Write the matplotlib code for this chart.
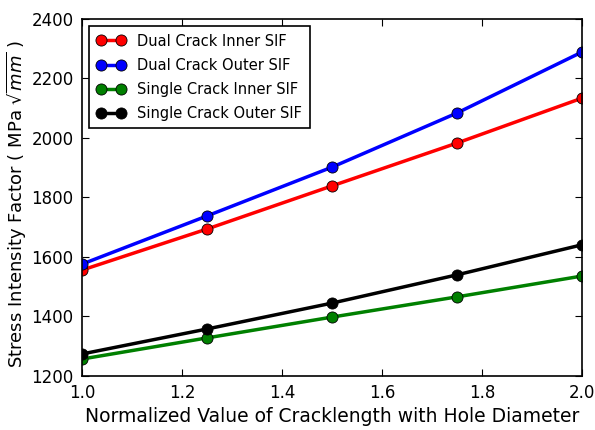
import numpy as np
import matplotlib
matplotlib.use("Agg")
import matplotlib.pyplot as plt

# normalized crack length (crack length / hole diameter)
crack_ratio = [1.0, 1.25, 1.5, 1.75, 2.0]

# SIF values (MPa sqrt(mm))
dual_inner = [1556, 1694, 1839, 1983, 2134]
dual_outer = [1576, 1738, 1902, 2084, 2289]
single_inner = [1257, 1328, 1398, 1466, 1536]
single_outer = [1274, 1358, 1445, 1540, 1641]

series_labels = [
    "Dual Crack Inner SIF",
    "Dual Crack Outer SIF",
    "Single Crack Inner SIF",
    "Single Crack Outer SIF",
]
series_colors = ["red", "blue", "green", "black"]

x_ticks = [1.0, 1.2, 1.4, 1.6, 1.8, 2.0]
y_ticks = [1200, 1400, 1600, 1800, 2000, 2200, 2400]

plt.rcParams["font.family"] = ["DejaVu Sans"]
plt.rcParams["mathtext.fontset"] = "dejavusans"

fig = plt.figure(figsize=(5.95, 4.30), dpi=100)
ax = fig.add_axes([82 / 595, 1 - 376 / 430, 500 / 595, 357 / 430])

for vals, lab, col in zip(
    [dual_inner, dual_outer, single_inner, single_outer], series_labels, series_colors
):
    ax.plot(
        crack_ratio, vals, color=col, lw=2.5, marker="o", markersize=8,
        markeredgecolor="black", markeredgewidth=0.6, label=lab,
    )

ax.set_xlim(1.0, 2.0)
ax.set_ylim(1200, 2400)
ax.set_xticks(x_ticks)
ax.set_yticks(y_ticks)
ax.set_xticklabels([f"{t:.1f}" for t in x_ticks])
ax.tick_params(direction="in", top=True, right=True, length=5, width=0.8,
               labelsize=12, pad=6)
for sp in ax.spines.values():
    sp.set_linewidth(1.2)

ax.set_xlabel("Normalized Value of Cracklength with Hole Diameter", fontsize=13.5, labelpad=3)
ax.set_ylabel(r"Stress Intensity Factor ( MPa $\sqrt{mm}$ )", fontsize=13)
ax.yaxis.set_label_coords(-0.106, 0.482)

leg = ax.legend(loc="upper left", fontsize=10.5, fancybox=False, framealpha=1,
                edgecolor="black", borderpad=0.5, handlelength=2.0, numpoints=2,
                labelspacing=0.62, bbox_to_anchor=(0.0, 1.0))
leg.get_frame().set_linewidth(1.2)

fig.savefig("out.png", dpi=100)
